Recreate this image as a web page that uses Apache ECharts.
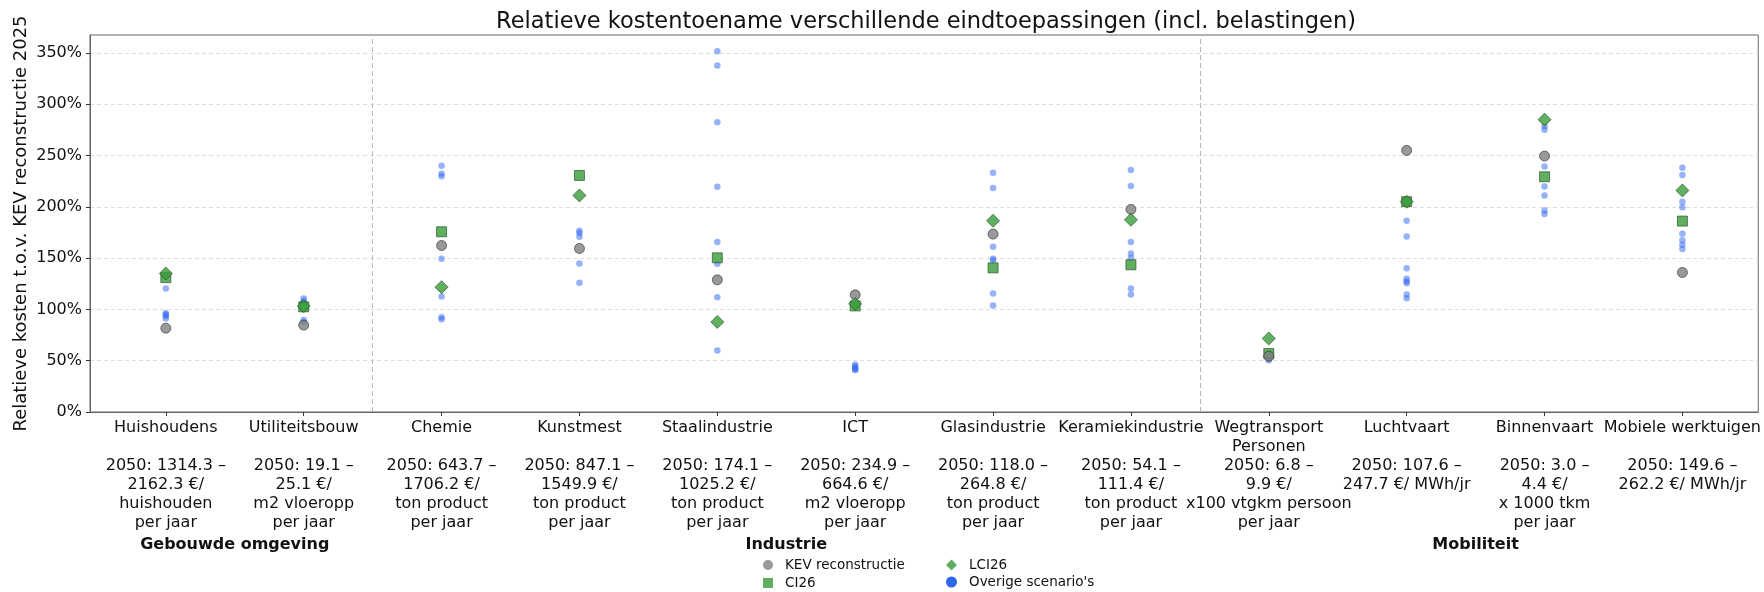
<!DOCTYPE html>
<html>
<head>
<meta charset="utf-8">
<script src="https://cdn.jsdelivr.net/npm/echarts@6/dist/echarts.min.js"></script>
<style>
  html, body { margin: 0; padding: 0; background: #ffffff; }
  #chart { width: 1764px; height: 592px; }
</style>
</head>
<body>
<div id="chart"></div>
<script>
// End-use categories (x axis) and their 2050 cost ranges
const categories = [
  'Huishoudens', 'Utiliteitsbouw', 'Chemie', 'Kunstmest', 'Staalindustrie', 'ICT',
  'Glasindustrie', 'Keramiekindustrie', 'Wegtransport\nPersonen', 'Luchtvaart',
  'Binnenvaart', 'Mobiele werktuigen'
];
const costRanges = [
  '2050: 1314.3 –\n2162.3 €/\nhuishouden\nper jaar',
  '2050: 19.1 –\n25.1 €/\nm2 vloeropp\nper jaar',
  '2050: 643.7 –\n1706.2 €/\nton product\nper jaar',
  '2050: 847.1 –\n1549.9 €/\nton product\nper jaar',
  '2050: 174.1 –\n1025.2 €/\nton product\nper jaar',
  '2050: 234.9 –\n664.6 €/\nm2 vloeropp\nper jaar',
  '2050: 118.0 –\n264.8 €/\nton product\nper jaar',
  '2050: 54.1 –\n111.4 €/\nton product\nper jaar',
  '2050: 6.8 –\n9.9 €/\nx100 vtgkm persoon\nper jaar',
  '2050: 107.6 –\n247.7 €/ MWh/jr',
  '2050: 3.0 –\n4.4 €/\nx 1000 tkm\nper jaar',
  '2050: 149.6 –\n262.2 €/ MWh/jr'
];

// Sector groups: name, first and last category index
const groupNames = ['Gebouwde omgeving', 'Industrie', 'Mobiliteit'];
const groupSpans = [[0, 1], [2, 7], [8, 11]];

// Relative cost (% of KEV reconstructie 2025) per category
const kevReconstructie = [81.7, 84.7, 162.3, 159.4, 128.8, 114.2, 173.4, 197.5, 54.4, 255.0, 249.5, 136.0];
const ci26 = [131.0, 102.5, 175.7, 230.6, 150.3, 103.4, 140.5, 143.5, 57.0, 205.0, 229.3, 186.1];
const lci26 = [135.0, 103.2, 121.7, 211.1, 87.8, 105.4, 186.4, 187.4, 71.7, 205.0, 285.0, 216.0];
const overigeScenarios = [
  [120.5, 96.3, 93.5, 91.2, 95.0],
  [110.7, 108.5, 106.0, 89.6, 87.5],
  [240.0, 232.3, 229.7, 149.3, 112.6, 92.4, 90.4],
  [176.7, 174.4, 170.8, 144.8, 125.9],
  [351.7, 337.7, 282.4, 219.6, 165.6, 144.4, 111.9, 59.9],
  [46.0, 44.5, 43.0, 41.5, 41.0],
  [233.3, 218.3, 161.0, 149.3, 148.0, 115.5, 103.8],
  [235.9, 220.3, 165.6, 154.5, 150.0, 120.4, 114.5],
  [52.0, 50.5],
  [205.0, 186.4, 171.1, 140.2, 130.0, 127.5, 125.5, 114.5, 110.9],
  [278.5, 275.2, 239.4, 219.9, 211.1, 196.5, 192.9],
  [238.1, 231.0, 205.0, 199.7, 173.7, 167.5, 163.0, 158.8]
];

// Y axis ticks (%)
const yTicks = [0, 50, 100, 150, 200, 250, 300, 350];
// Dividers between sector groups (x positions between categories)
const groupDividers = [1.5, 7.5];

const FONT = 'DejaVu Sans';
const GRID = { left: 90, right: 3, top: 35, bottom: 180 };

// Axis label: category name (padded to two lines) followed by its cost range
const xLabels = categories.map((name, i) => {
  const lines = name.split('\n');
  while (lines.length < 2) lines.push('');
  return lines.concat(costRanges[i].split('\n')).join('\n');
});
const xPositions = categories.map((_, i) => i);

const toPoints = arr => arr.map((v, i) => [i, v]);
const overigePoints = [];
overigeScenarios.forEach((vals, i) => vals.forEach(v => overigePoints.push([i, v])));

const chart = echarts.init(document.getElementById('chart'), null, { renderer: 'canvas' });

const legendText = { fontFamily: FONT, fontSize: 13.5, color: '#111', padding: [0, 0, 0, 7] };

const option = {
  animation: false,
  backgroundColor: '#ffffff',
  textStyle: { fontFamily: FONT },
  title: {
    text: 'Relatieve kostentoename verschillende eindtoepassingen (incl. belastingen)',
    left: 921,
    textAlign: 'center',
    top: 6,
    textStyle: { fontFamily: FONT, fontSize: 22.5, fontWeight: 'normal', color: '#111' }
  },
  grid: {
    left: GRID.left, right: GRID.right, top: GRID.top, bottom: GRID.bottom,
    show: true, borderColor: '#666', borderWidth: 1, backgroundColor: 'transparent'
  },
  legend: [
    {
      orient: 'vertical', left: 758, top: 553, height: 38,
      itemWidth: 10, itemHeight: 10, itemGap: 4,
      textStyle: legendText,
      data: [
        { name: 'KEV reconstructie', icon: 'circle', itemStyle: { color: '#808080', borderWidth: 0 } },
        { name: 'CI26', icon: 'rect', itemStyle: { color: '#3a9c3a', borderWidth: 0 } }
      ]
    },
    {
      orient: 'vertical', left: 941, top: 553, height: 38,
      itemWidth: 11, itemHeight: 11, itemGap: 3,
      textStyle: legendText,
      data: [
        { name: 'LCI26', icon: 'diamond', itemStyle: { color: '#3a9c3a', borderWidth: 0 } },
        { name: "Overige scenario's", icon: 'circle', itemStyle: { color: '#2f66f0', borderWidth: 0, opacity: 1 } }
      ]
    }
  ],
  xAxis: {
    type: 'value',
    min: -0.55,
    max: 11.55,
    axisLine: { show: true, onZero: false, lineStyle: { color: '#666', width: 1 } },
    axisTick: { show: true, customValues: xPositions, length: 4, lineStyle: { color: '#333' } },
    axisLabel: {
      show: true,
      customValues: xPositions,
      formatter: v => xLabels[Math.round(v)],
      fontFamily: FONT, fontSize: 16, lineHeight: 19, color: '#111',
      margin: 6, align: 'center'
    },
    splitLine: { show: false }
  },
  yAxis: {
    type: 'value',
    min: 0,
    max: 367.5,
    interval: 50,
    name: 'Relatieve kosten t.o.v. KEV reconstructie 2025',
    nameLocation: 'middle',
    nameRotate: 90,
    nameGap: 60,
    nameMoveOverlap: false,
    nameTextStyle: { fontFamily: FONT, fontSize: 18, color: '#111' },
    axisLine: { show: true, onZero: false, lineStyle: { color: '#666', width: 1 } },
    axisTick: { show: true, customValues: yTicks, length: 4, lineStyle: { color: '#333' } },
    axisLabel: {
      customValues: yTicks,
      formatter: v => v + '%',
      fontFamily: FONT, fontSize: 16, color: '#111', margin: 8
    },
    splitLine: { show: true, lineStyle: { color: '#d6d6d6', width: 0.8, type: [4, 3] } }
  },
  series: [
    {
      name: "Overige scenario's",
      type: 'scatter',
      z: 2,
      symbol: 'circle',
      symbolSize: 6.5,
      itemStyle: { color: '#2f66f0', opacity: 0.5 },
      data: overigePoints,
      markLine: {
        silent: true,
        symbol: 'none',
        label: { show: false },
        lineStyle: { color: '#b5b5b5', width: 1, type: [5, 3] },
        data: groupDividers.map(x => ({ xAxis: x }))
      }
    },
    {
      name: 'CI26',
      type: 'scatter',
      z: 3,
      symbol: 'rect',
      symbolSize: 10,
      itemStyle: { color: '#3a9c3a', borderColor: '#1f4a1f', borderWidth: 0.8 },
      data: toPoints(ci26)
    },
    {
      name: 'KEV reconstructie',
      type: 'scatter',
      z: 4,
      symbol: 'circle',
      symbolSize: 10,
      itemStyle: { color: '#808080', borderColor: '#333', borderWidth: 0.8 },
      data: toPoints(kevReconstructie)
    },
    {
      name: 'LCI26',
      type: 'scatter',
      z: 5,
      symbol: 'diamond',
      symbolSize: 13,
      itemStyle: { color: '#3a9c3a', borderColor: '#1f4a1f', borderWidth: 0.8 },
      data: toPoints(lci26)
    }
  ]
};

chart.setOption(option);

// Sector group names centred under their categories
const groupY = 537;
chart.setOption({
  graphic: groupNames.map((name, g) => {
    const mid = (groupSpans[g][0] + groupSpans[g][1]) / 2;
    const px = chart.convertToPixel({ xAxisIndex: 0 }, mid);
    return {
      type: 'text',
      x: px,
      y: groupY,
      style: {
        text: name,
        align: 'center',
        verticalAlign: 'top',
        fontFamily: FONT,
        fontSize: 16,
        fontWeight: 'bold',
        fill: '#111'
      }
    };
  })
});
</script>
</body>
</html>
